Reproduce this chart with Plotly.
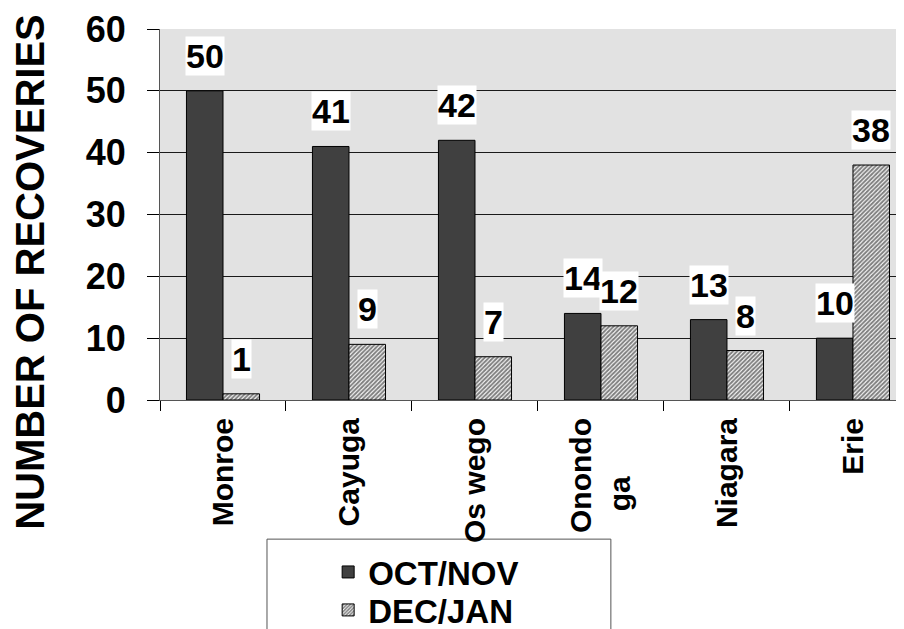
import plotly.graph_objects as go

categories = ["Monroe", "Cayuga", "Os wego", "Onondo<br>ga" + "\u00a0" * 7, "Niagara", "Erie"]
oct_nov = [50, 41, 42, 14, 13, 10]
dec_jan = [1, 9, 7, 12, 8, 38]
series_names = ["OCT/NOV", "DEC/JAN"]
y_ticks = [0, 10, 20, 30, 40, 50, 60]
y_title = "NUMBER OF RECOVERIES"

FONT = "Liberation Sans Narrow, Liberation Sans"
LEG_FONT = "Liberation Sans"

fig = go.Figure()
fig.add_trace(go.Bar(
    x=categories, y=oct_nov, name=series_names[0], legend="legend",
    marker=dict(color="#404040", line=dict(color="#000000", width=1)),
))
fig.add_trace(go.Bar(
    x=categories, y=dec_jan, name=series_names[1], legend="legend2",
    marker=dict(color="#ffffff", line=dict(color="#000000", width=1),
                pattern=dict(shape="/", fgcolor="#000000", bgcolor="#ffffff",
                             size=3, solidity=0.65)),
))

annotations = []
for vals, shift in ((oct_nov, -18.3), (dec_jan, 18.3)):
    for c, v in zip(categories, vals):
        annotations.append(dict(
            x=c, y=v, xref="x", yref="y", text=str(v), showarrow=False,
            xshift=shift, yshift=35, bgcolor="#ffffff", borderpad=0,
            font=dict(family=FONT, size=34, color="#000000", weight="bold"),
        ))
annotations.append(dict(
    x=-0.175, y=0.345, xref="paper", yref="paper", text=y_title,
    textangle=-90, showarrow=False, xanchor="center", yanchor="middle",
    font=dict(family=FONT, size=40, color="#000000", weight="bold"),
))

legend_common = dict(
    x=0.226, xanchor="left", yanchor="middle",
    bgcolor="rgba(0,0,0,0)", borderwidth=0,
    font=dict(family=LEG_FONT, size=33, color="#000000", weight="bold"),
)

fig.update_layout(
    width=896, height=621,
    margin=dict(l=152, r=0, t=21, b=229, pad=0, autoexpand=False),
    paper_bgcolor="#ffffff", plot_bgcolor="#e2e2e2",
    barmode="group", bargap=0.42, bargroupgap=0,
    font=dict(family=FONT, color="#000000", weight="bold"),
    showlegend=True,
    legend=dict(y=-0.4636, **legend_common),
    legend2=dict(y=-0.566, **legend_common),
    annotations=annotations,
    shapes=[dict(type="rect", xref="paper", yref="paper",
                 x0=0.1438, x1=0.606, y0=-0.375, y1=-0.66,
                 line=dict(color="#555555", width=1), fillcolor="rgba(0,0,0,0)",
                 layer="below")],
)
fig.update_xaxes(
    range=[-0.5, 5.405], tickangle=-90,
    tickfont=dict(family=FONT, size=30, color="#000000", weight="bold"),
    ticks="outside", tickson="boundaries", ticklen=10, tickcolor="#000000",
    ticklabelstandoff=5,
    showline=True, linecolor="#555555", linewidth=1, showgrid=False,
)
fig.update_yaxes(
    range=[0, 60], tickvals=y_ticks,
    tickfont=dict(family=FONT, size=36, color="#000000", weight="bold"),
    ticks="outside", ticklen=12, tickcolor="#000000", ticklabelstandoff=14,
    showline=True, linecolor="#555555", linewidth=1,
    showgrid=True, gridcolor="#1a1a1a", gridwidth=1, zeroline=False,
)

fig.write_html("out.html")
